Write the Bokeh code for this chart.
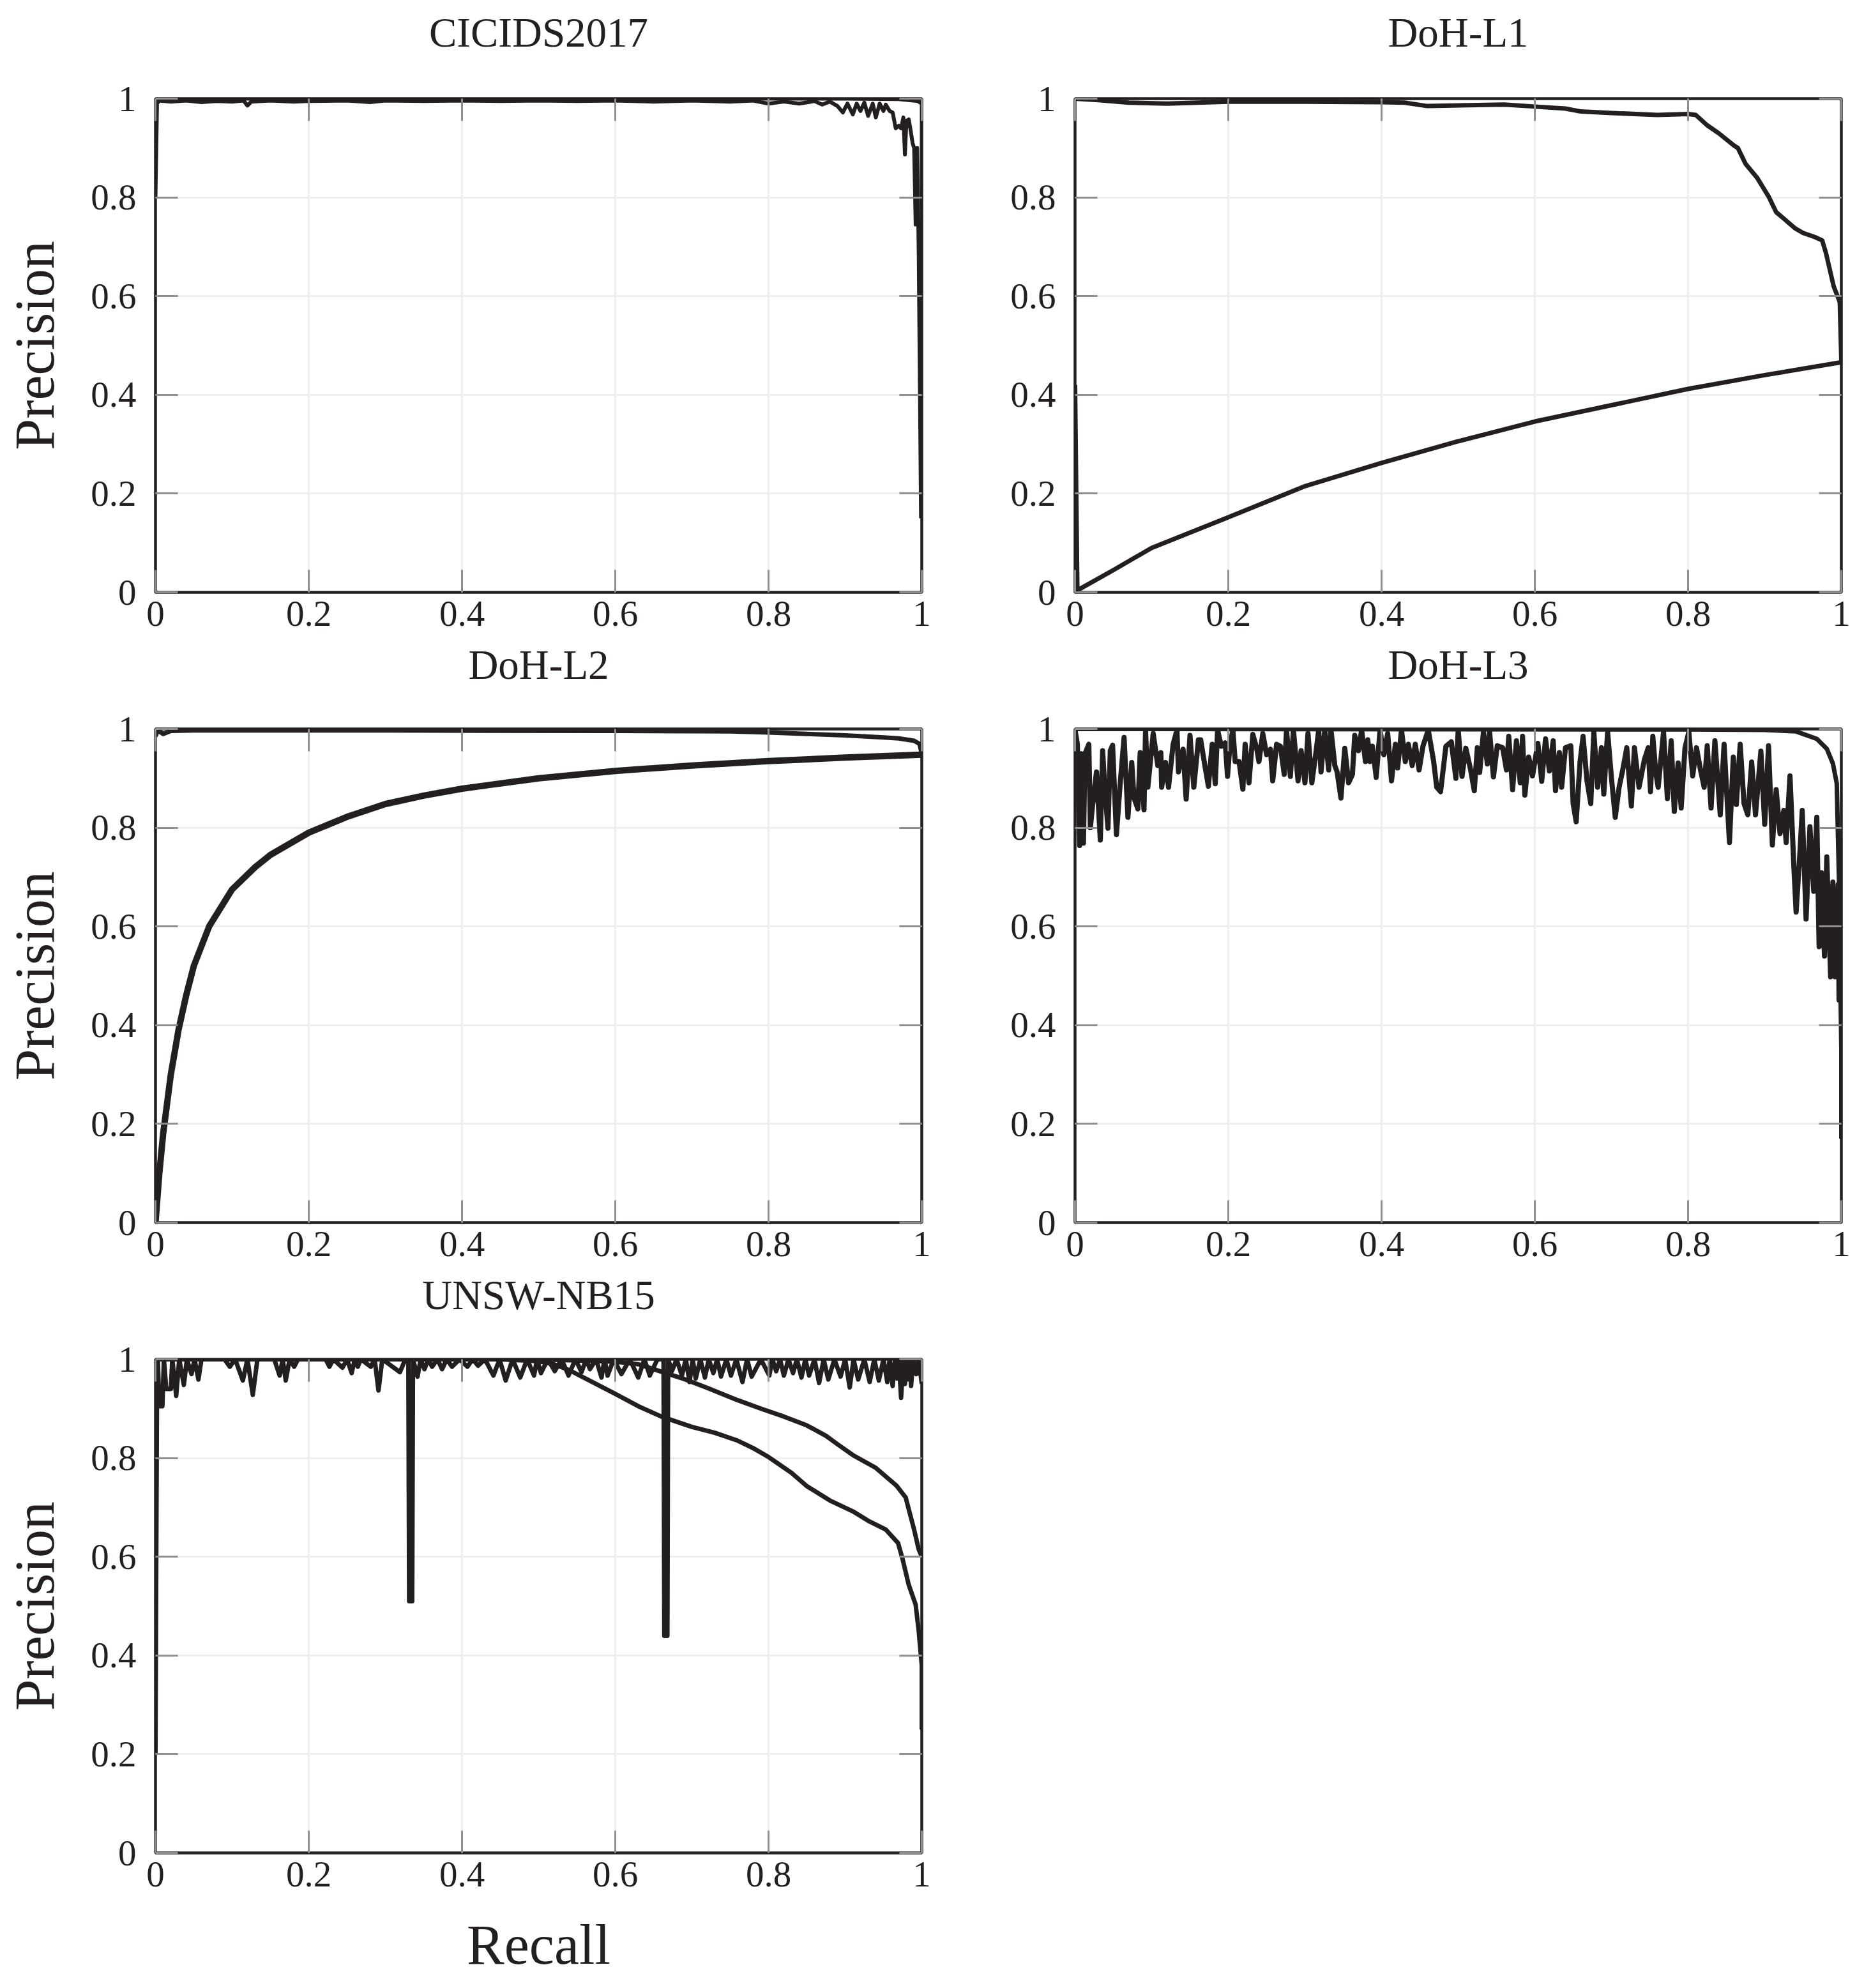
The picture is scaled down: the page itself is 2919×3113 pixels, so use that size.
from bokeh.plotting import figure
from bokeh.layouts import column, row
from bokeh.models import FixedTicker, LinearAxis, Range1d
from bokeh.embed import file_html
from bokeh.resources import INLINE

INK = "#231f20"
FONT = "Liberation Serif"
TICKS = [0, 0.2, 0.4, 0.6, 0.8, 1]
TICK_LABELS = ["0", "0.2", "0.4", "0.6", "0.8", "1"]
TITLES = ["CICIDS2017", "DoH-L1", "DoH-L2", "DoH-L3", "UNSW-NB15"]

# ---------------- CICIDS2017 ----------------
cic_main_pts = [
    (0.0, 0.80), (0.002, 0.99), (0.005, 0.996), (0.02, 0.994), (0.04, 0.996), (0.06, 0.993),
    (0.08, 0.995), (0.1, 0.994), (0.115, 0.996), (0.12, 0.986), (0.125, 0.994), (0.15, 0.996),
    (0.18, 0.994), (0.2, 0.995), (0.25, 0.996), (0.28, 0.993), (0.3, 0.996), (0.35, 0.995),
    (0.4, 0.996), (0.45, 0.995), (0.5, 0.996), (0.55, 0.995), (0.6, 0.996), (0.65, 0.994),
    (0.7, 0.996), (0.75, 0.994), (0.78, 0.996), (0.8, 0.99), (0.82, 0.994), (0.84, 0.99),
    (0.86, 0.995), (0.87, 0.988), (0.88, 0.994), (0.89, 0.985), (0.897, 0.972), (0.903, 0.99),
    (0.91, 0.968), (0.915, 0.99), (0.92, 0.975), (0.925, 0.992), (0.93, 0.965), (0.936, 0.99),
    (0.94, 0.962), (0.945, 0.99), (0.95, 0.975), (0.953, 0.988), (0.958, 0.975), (0.962, 0.972),
    (0.966, 0.94), (0.97, 0.945), (0.973, 0.94), (0.976, 0.962), (0.978, 0.887), (0.98, 0.955),
    (0.983, 0.958), (0.985, 0.94), (0.988, 0.91), (0.99, 0.9), (0.992, 0.745), (0.994, 0.9),
    (0.996, 0.685), (0.999, 0.15),
]
cic_upper_pts = [(0.0, 1.0), (0.9, 1.0), (0.97, 0.999), (0.995, 0.995), (1.0, 0.99), (1.0, 0.15)]

# ---------------- DoH-L1 ----------------
l1_upper_pts = [
    (0.0, 1.0), (0.03, 0.997), (0.07, 0.992), (0.12, 0.99), (0.2, 0.994), (0.3, 0.994),
    (0.4, 0.993), (0.43, 0.992), (0.46, 0.985), (0.56, 0.988), (0.6, 0.984), (0.64, 0.98),
    (0.66, 0.974), (0.7, 0.971), (0.76, 0.967), (0.8, 0.969), (0.81, 0.967), (0.825, 0.946),
    (0.84, 0.93), (0.86, 0.905), (0.865, 0.9), (0.875, 0.868), (0.89, 0.84), (0.905, 0.802),
    (0.915, 0.77), (0.925, 0.757), (0.94, 0.737), (0.95, 0.728), (0.965, 0.72), (0.975, 0.713),
    (0.98, 0.687), (0.99, 0.62), (0.998, 0.588), (1.0, 0.47),
]
l1_lower_pts = [
    (0.0, 0.42), (0.003, 0.004), (0.05, 0.045), (0.1, 0.09), (0.2, 0.152), (0.3, 0.215),
    (0.4, 0.262), (0.5, 0.306), (0.6, 0.346), (0.7, 0.379), (0.8, 0.412), (0.9, 0.44),
    (1.0, 0.466),
]

# ---------------- DoH-L2 ----------------
l2_upper_pts = [
    (0.0, 0.985), (0.003, 0.997), (0.01, 0.99), (0.015, 0.993), (0.02, 0.996), (0.05, 0.997),
    (0.3, 0.997), (0.6, 0.996), (0.75, 0.995), (0.8, 0.993), (0.85, 0.99), (0.9, 0.987),
    (0.95, 0.983), (0.97, 0.981), (0.99, 0.976), (0.997, 0.97), (1.0, 0.95),
]
l2_lower_pts = [
    (0.0, 0.0), (0.005, 0.1), (0.01, 0.18), (0.02, 0.3), (0.03, 0.39), (0.04, 0.46),
    (0.05, 0.52), (0.07, 0.6), (0.1, 0.675), (0.13, 0.72), (0.15, 0.745), (0.2, 0.79),
    (0.25, 0.822), (0.3, 0.848), (0.35, 0.865), (0.4, 0.879), (0.5, 0.9), (0.6, 0.915),
    (0.7, 0.926), (0.8, 0.935), (0.9, 0.942), (1.0, 0.948),
]

# ---------------- DoH-L3 ----------------
l3_smooth_pts = [
    (0.0, 1.0), (0.8, 0.999), (0.9, 0.998), (0.941, 0.995), (0.968, 0.98), (0.981, 0.96),
    (0.989, 0.93), (0.994, 0.89), (0.997, 0.69), (1.0, 0.35), (1.0, 0.17),
]
l3_noisy_pts = [
    (0.0, 0.998), (0.003, 0.97), (0.006, 0.764), (0.008, 0.95), (0.011, 0.769), (0.013, 0.95),
    (0.018, 0.969), (0.02, 0.8), (0.023, 0.847), (0.028, 0.913), (0.033, 0.775), (0.036, 0.956),
    (0.039, 0.876), (0.043, 0.799), (0.046, 0.956), (0.049, 0.967), (0.054, 0.786), (0.059, 0.891),
    (0.064, 0.983), (0.069, 0.821), (0.074, 0.932), (0.077, 0.86), (0.082, 0.838), (0.085, 0.952),
    (0.09, 0.836), (0.092, 0.998), (0.095, 0.882), (0.102, 0.991), (0.108, 0.926), (0.112, 0.952),
    (0.113, 0.882), (0.118, 0.932), (0.122, 0.882), (0.128, 0.969), (0.133, 0.998), (0.135, 0.913),
    (0.141, 0.959), (0.145, 0.858), (0.15, 0.987), (0.155, 0.882), (0.161, 0.978), (0.164, 0.978),
    (0.168, 0.939), (0.174, 0.884), (0.179, 0.969), (0.183, 0.889), (0.186, 0.998), (0.191, 0.965),
    (0.196, 0.972), (0.199, 0.904), (0.202, 0.965), (0.206, 0.998), (0.209, 0.934), (0.214, 0.934),
    (0.219, 0.878), (0.222, 0.969), (0.227, 0.891), (0.232, 0.989), (0.237, 0.961), (0.24, 0.934),
    (0.245, 0.991), (0.25, 0.948), (0.255, 0.959), (0.258, 0.895), (0.263, 0.969), (0.268, 0.965),
    (0.273, 0.908), (0.276, 0.998), (0.281, 0.904), (0.285, 0.998), (0.291, 0.895), (0.295, 0.956),
    (0.3, 0.891), (0.304, 0.991), (0.309, 0.891), (0.314, 0.948), (0.318, 0.998), (0.321, 0.913),
    (0.326, 0.998), (0.331, 0.917), (0.334, 0.998), (0.339, 0.926), (0.342, 0.913), (0.347, 0.86),
    (0.352, 0.961), (0.357, 0.891), (0.362, 0.908), (0.365, 0.987), (0.37, 0.956), (0.374, 0.998),
    (0.379, 0.934), (0.382, 0.978), (0.385, 0.934), (0.388, 0.965), (0.393, 0.902), (0.398, 0.998),
    (0.403, 0.948), (0.408, 0.991), (0.413, 0.895), (0.418, 0.969), (0.421, 0.921), (0.426, 0.998),
    (0.431, 0.934), (0.435, 0.969), (0.44, 0.926), (0.444, 0.969), (0.449, 0.917), (0.454, 0.965),
    (0.461, 0.998), (0.468, 0.934), (0.472, 0.882), (0.477, 0.873), (0.484, 0.965), (0.491, 0.974),
    (0.497, 0.9), (0.5, 0.998), (0.505, 0.904), (0.51, 0.961),
    (0.516, 0.919), (0.521, 0.875), (0.525, 0.962), (0.528, 0.912), (0.533, 0.994), (0.538, 0.929),
    (0.541, 0.994), (0.546, 0.903), (0.551, 0.966), (0.558, 0.962), (0.563, 0.917), (0.566, 0.985),
    (0.571, 0.877), (0.576, 0.976), (0.581, 0.891), (0.584, 0.985), (0.587, 0.866), (0.592, 0.943),
    (0.597, 0.905), (0.604, 0.971), (0.609, 0.894), (0.614, 0.98), (0.619, 0.915), (0.624, 0.976),
    (0.627, 0.875), (0.632, 0.952), (0.635, 0.882), (0.64, 0.962), (0.647, 0.966), (0.65, 0.849),
    (0.654, 0.812), (0.659, 0.933), (0.663, 0.985), (0.668, 0.896), (0.673, 0.849), (0.677, 0.994),
    (0.682, 0.882), (0.687, 0.962), (0.69, 0.868), (0.695, 0.994), (0.7, 0.901), (0.705, 0.821),
    (0.71, 0.882), (0.715, 0.919), (0.72, 0.962), (0.726, 0.844), (0.73, 0.962), (0.736, 0.882),
    (0.743, 0.938), (0.748, 0.962), (0.751, 0.873), (0.754, 0.985), (0.758, 0.91), (0.761, 0.882),
    (0.768, 0.994), (0.773, 0.859), (0.778, 0.976), (0.782, 0.833), (0.787, 0.931), (0.791, 0.84),
    (0.796, 0.962), (0.801, 0.994), (0.806, 0.905), (0.811, 0.962), (0.816, 0.919), (0.821, 0.882),
    (0.825, 0.966), (0.83, 0.84), (0.835, 0.976), (0.842, 0.826), (0.847, 0.969), (0.854, 0.77),
    (0.859, 0.943), (0.863, 0.847), (0.868, 0.969), (0.873, 0.849), (0.878, 0.826), (0.883, 0.933),
    (0.888, 0.826), (0.895, 0.955), (0.9, 0.807), (0.905, 0.966), (0.91, 0.765), (0.915, 0.877),
    (0.92, 0.788), (0.925, 0.835), (0.928, 0.77), (0.933, 0.905), (0.938, 0.723), (0.941, 0.629),
    (0.946, 0.751), (0.949, 0.835), (0.954, 0.615), (0.959, 0.802), (0.964, 0.671), (0.968, 0.821),
    (0.971, 0.559), (0.974, 0.709), (0.978, 0.54), (0.981, 0.741), (0.986, 0.498), (0.989, 0.69),
    (0.992, 0.498), (0.996, 0.685), (0.997, 0.451), (1.0, 0.5),
]

# ---------------- UNSW-NB15 ----------------
unsw_noisy_pts = [
    (0.0, 0.2), (0.001, 0.6), (0.002, 0.95), (0.003, 1.0), (0.005, 0.905), (0.009, 0.905),
    (0.011, 1.0), (0.014, 0.94), (0.02, 0.94), (0.022, 1.0), (0.027, 0.926), (0.031, 1.0),
    (0.037, 0.948), (0.041, 1.0), (0.047, 0.97), (0.051, 1.0), (0.056, 0.959), (0.06, 1.0),
    (0.09, 1.0), (0.097, 0.985), (0.104, 1.0), (0.114, 0.957), (0.12, 1.0), (0.127, 0.928),
    (0.133, 1.0), (0.155, 1.0), (0.162, 0.967), (0.166, 1.0), (0.17, 0.957), (0.175, 1.0),
    (0.181, 0.985), (0.186, 1.0), (0.222, 1.0), (0.227, 0.985), (0.232, 1.0), (0.244, 0.983),
    (0.25, 1.0), (0.256, 0.972), (0.26, 1.0), (0.264, 0.985), (0.268, 1.0), (0.281, 0.985),
    (0.286, 1.0), (0.291, 0.937), (0.296, 1.0), (0.319, 0.974), (0.326, 1.0), (0.33, 1.0),
    (0.331, 0.51), (0.335, 0.51), (0.336, 1.0), (0.342, 0.965), (0.346, 1.0), (0.351, 0.98),
    (0.356, 1.0), (0.361, 0.985), (0.368, 1.0), (0.374, 0.98), (0.38, 1.0), (0.387, 0.985),
    (0.397, 1.0), (0.407, 0.985), (0.414, 1.0), (0.421, 0.987), (0.43, 1.0), (0.441, 0.967),
    (0.449, 1.0), (0.457, 0.957), (0.466, 1.0), (0.476, 0.963), (0.485, 1.0), (0.494, 0.967),
    (0.498, 1.0), (0.503, 0.972), (0.512, 1.0), (0.521, 0.976), (0.53, 1.0), (0.539, 0.967),
    (0.548, 1.0), (0.556, 0.974), (0.562, 1.0), (0.567, 0.98), (0.575, 1.0), (0.582, 0.963),
    (0.586, 1.0), (0.59, 0.967), (0.598, 1.0), (0.608, 0.97), (0.619, 1.0), (0.63, 0.963),
    (0.638, 1.0), (0.645, 0.967), (0.655, 1.0), (0.663, 1.0), (0.664, 0.44), (0.668, 0.44),
    (0.669, 1.0), (0.674, 0.976), (0.68, 1.0), (0.687, 0.967), (0.692, 1.0), (0.697, 0.954),
    (0.701, 1.0), (0.705, 0.961), (0.711, 1.0), (0.717, 0.963), (0.722, 1.0), (0.728, 0.972),
    (0.733, 1.0), (0.738, 0.965), (0.745, 1.0), (0.751, 0.967), (0.758, 1.0), (0.766, 0.954),
    (0.772, 1.0), (0.778, 0.965), (0.79, 1.0), (0.801, 0.967), (0.805, 1.0), (0.81, 0.976),
    (0.815, 1.0), (0.82, 0.967), (0.826, 1.0), (0.832, 0.972), (0.837, 1.0), (0.843, 0.963),
    (0.848, 1.0), (0.853, 0.967), (0.86, 1.0), (0.866, 0.952), (0.872, 1.0), (0.878, 0.959),
    (0.886, 1.0), (0.894, 0.965), (0.9, 1.0), (0.906, 0.943), (0.911, 1.0), (0.917, 0.959),
    (0.925, 1.0), (0.932, 0.954), (0.938, 1.0), (0.944, 0.957), (0.95, 1.0), (0.955, 0.954),
    (0.958, 1.0), (0.962, 0.946), (0.965, 1.0), (0.968, 0.961), (0.97, 1.0), (0.973, 0.922),
    (0.976, 1.0), (0.978, 0.95), (0.98, 1.0), (0.981, 0.959), (0.984, 1.0), (0.986, 0.946),
    (0.989, 1.0), (0.993, 0.97), (0.996, 1.0), (1.0, 0.95),
]
unsw_upper_pts = [
    (0.0, 1.0), (0.5, 1.0), (0.6, 0.995), (0.63, 0.99), (0.66, 0.975), (0.69, 0.96),
    (0.72, 0.942), (0.76, 0.917), (0.79, 0.9), (0.82, 0.884), (0.85, 0.866), (0.875, 0.845),
    (0.89, 0.828), (0.91, 0.806), (0.94, 0.78), (0.967, 0.744), (0.979, 0.72), (0.983, 0.696),
    (0.99, 0.655), (0.996, 0.615), (1.0, 0.6),
]
unsw_lower_pts = [
    (0.0, 1.0), (0.45, 1.0), (0.5, 0.996), (0.52, 0.99), (0.54, 0.978), (0.56, 0.962),
    (0.6, 0.93), (0.63, 0.905), (0.66, 0.884), (0.7, 0.863), (0.73, 0.851), (0.76, 0.835),
    (0.78, 0.82), (0.8, 0.802), (0.83, 0.77), (0.85, 0.743), (0.88, 0.714), (0.91, 0.692),
    (0.93, 0.673), (0.953, 0.655), (0.969, 0.628), (0.975, 0.595), (0.983, 0.543),
    (0.992, 0.503), (0.996, 0.45), (1.0, 0.38), (1.0, 0.25),
]

# ---------------- styling helpers ----------------
FRAME_W, FRAME_H = 1200, 773


def style_axis(ax, label_size="57px", label_color=INK):
    ax.ticker = FixedTicker(ticks=TICKS)
    ax.major_label_overrides = {t: s for t, s in zip(TICKS, TICK_LABELS)}
    ax.axis_line_color = None
    ax.major_tick_in = 35
    ax.major_tick_out = 0
    ax.major_tick_line_color = "#8f8f8f"
    ax.major_tick_line_width = 3
    ax.minor_tick_line_color = None
    ax.major_label_text_font = FONT
    ax.major_label_text_font_size = label_size
    ax.major_label_text_color = label_color
    ax.axis_label_text_font = FONT
    ax.axis_label_text_font_size = "88px"
    ax.axis_label_text_font_style = "normal"
    ax.axis_label_text_color = INK


def panel(title, left, right, top, bottom, title_standoff, ylabel=None, xlabel=None):
    p = figure(frame_width=FRAME_W, frame_height=FRAME_H,
               x_range=Range1d(0, 1), y_range=Range1d(0, 1),
               output_backend="svg", toolbar_location=None,
               min_border_left=left, min_border_right=right,
               min_border_top=top, min_border_bottom=bottom)
    p.background_fill_color = "white"
    p.border_fill_color = "white"
    p.outline_line_color = INK
    p.outline_line_width = 4.5
    for ax in p.xaxis + p.yaxis:
        style_axis(ax)
    p.xaxis.major_label_standoff = 14
    p.yaxis.major_label_standoff = 30
    if ylabel:
        p.yaxis.axis_label = ylabel
        p.yaxis.axis_label_standoff = 36
    if xlabel:
        p.xaxis.axis_label = xlabel
        p.xaxis.axis_label_standoff = 40
    # mirrored tick marks on top and right; the top one carries the panel title
    top_ax = LinearAxis()
    style_axis(top_ax, label_size="1px", label_color=None)
    top_ax.major_label_standoff = 0
    top_ax.axis_label = title
    top_ax.axis_label_text_font_size = "65px"
    top_ax.axis_label_standoff = title_standoff
    p.add_layout(top_ax, "above")
    right_ax = LinearAxis()
    style_axis(right_ax, label_size="1px", label_color=None)
    right_ax.major_label_standoff = 0
    p.add_layout(right_ax, "right")
    p.xgrid.grid_line_color = "#efefef"
    p.ygrid.grid_line_color = "#efefef"
    p.xgrid.grid_line_width = 3
    p.ygrid.grid_line_width = 3
    p.xgrid.ticker = FixedTicker(ticks=TICKS)
    p.ygrid.ticker = FixedTicker(ticks=TICKS)
    return p


def draw(p, pts, width=7):
    xs, ys = zip(*pts)
    p.line(list(xs), list(ys), line_color=INK, line_width=width, line_join="round")


LEFT_L, LEFT_R = 243, 110
RIGHT_L, RIGHT_R = 130, 30

p1 = panel(TITLES[0], LEFT_L, LEFT_R, 154, 74, 68, ylabel="Precision")
draw(p1, cic_upper_pts, 6)
draw(p1, cic_main_pts, 6)

p2 = panel(TITLES[1], RIGHT_L, RIGHT_R, 154, 74, 68)
draw(p2, l1_upper_pts)
draw(p2, l1_lower_pts)

p3 = panel(TITLES[2], LEFT_L, LEFT_R, 138, 74, 65, ylabel="Precision")
draw(p3, l2_upper_pts)
draw(p3, l2_lower_pts, 10)

p4 = panel(TITLES[3], RIGHT_L, RIGHT_R, 138, 74, 65)
draw(p4, l3_smooth_pts)
draw(p4, l3_noisy_pts, 8)

p5 = panel(TITLES[4], LEFT_L, LEFT_R, 138, 212, 65, ylabel="Precision", xlabel="Recall")
draw(p5, unsw_upper_pts)
draw(p5, unsw_lower_pts)
draw(p5, unsw_noisy_pts)

layout = column(row(p1, p2), row(p3, p4), row(p5))

with open("out.html", "w") as f:
    f.write(file_html(layout, INLINE))
